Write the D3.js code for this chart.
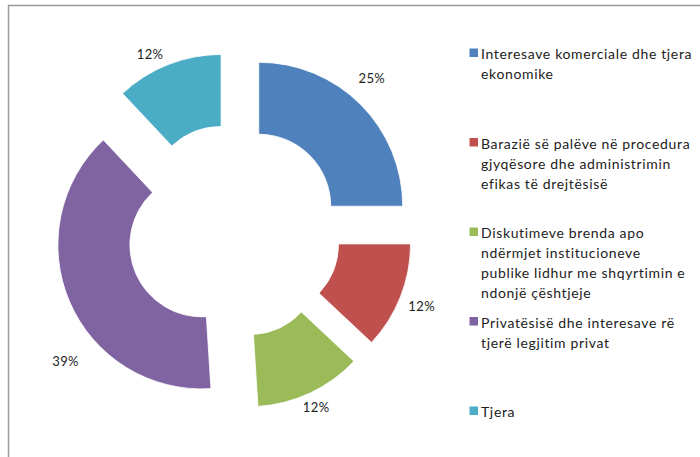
<!DOCTYPE html>
<html>
<head>
<meta charset="utf-8">
<script src="https://cdn.jsdelivr.net/npm/d3@7"></script>
<style>
  html, body { margin: 0; padding: 0; background: #fff; }
  svg { display: block; }
  text { font-family: Lato, "Open Sans", sans-serif; fill: #222; }
</style>
</head>
<body>
<svg id="chart" width="700" height="457"></svg>
<script>
// ---- data ----
const categories = [
  ["Interesave komerciale dhe tjera", "ekonomike"],
  ["Barazië së palëve në procedura", "gjyqësore dhe administrimin", "efikas të drejtësisë"],
  ["Diskutimeve brenda apo", "ndërmjet institucioneve", "publike lidhur me shqyrtimin e", "ndonjë çështjeje"],
  ["Privatësisë dhe interesave rë", "tjerë legjitim privat"],
  ["Tjera"]
];
const values = [25, 12, 12, 39, 12];
const labels = ["25%", "12%", "12%", "39%", "12%"];

// ---- style / layout ----
const colors = ["#4F81BD", "#C0504D", "#9BBB59", "#8064A2", "#4BACC6"];
const labelAngleNudge = [-3.6, 0.2, 0.2, -17, -4.6];   // degrees
const labelDist = [171, 167, 159, 179, 161];
const cx = 234, cy = 231, outerR = 144, innerR = 72, explode = 35;

const svg = d3.select("#chart");

// frame
svg.append("path")
  .attr("d", "M8.5,457 V5.5 H700")
  .attr("fill", "none").attr("stroke", "#9a9a9a").attr("stroke-width", 1.5);

const pie = d3.pie().sort(null).value(d => d)(values);
const arc = d3.arc().innerRadius(innerR).outerRadius(outerR);
const g = svg.append("g").attr("transform", `translate(${cx},${cy})`);

const toRad = Math.PI / 180;
pie.forEach((p, i) => {
  const mid = (p.startAngle + p.endAngle) / 2;
  const ox = explode * Math.sin(mid), oy = -explode * Math.cos(mid);
  const sg = g.append("g").attr("transform", `translate(${ox},${oy})`);
  sg.append("path").attr("d", arc(p)).attr("fill", colors[i])
    .attr("stroke", "#fff").attr("stroke-width", 0.8);
  const la = mid + labelAngleNudge[i] * toRad;
  sg.append("text")
    .attr("x", labelDist[i] * Math.sin(la))
    .attr("y", -labelDist[i] * Math.cos(la))
    .attr("text-anchor", "middle")
    .attr("dominant-baseline", "central")
    .style("font-size", "13px")
    .style("letter-spacing", "0.4px")
    .text(labels[i]);
});

// legend
const legendY = d3.scalePoint().domain(d3.range(categories.length)).range([53, 411]);
const lg = svg.append("g");
categories.forEach((lines, i) => {
  const y0 = legendY(i);
  lg.append("rect").attr("x", 469.5).attr("y", y0 - 4.5).attr("width", 8.5).attr("height", 8.5)
    .attr("fill", colors[i]);
  const t = lg.append("text").attr("x", 481).attr("y", y0)
    .attr("dominant-baseline", "central")
    .style("font-size", "14px")
    .style("letter-spacing", "0.65px");
  lines.forEach((ln, j) => {
    t.append("tspan").attr("x", 481).attr("dy", j === 0 ? 0 : 20).text(ln);
  });
});
</script>
</body>
</html>
